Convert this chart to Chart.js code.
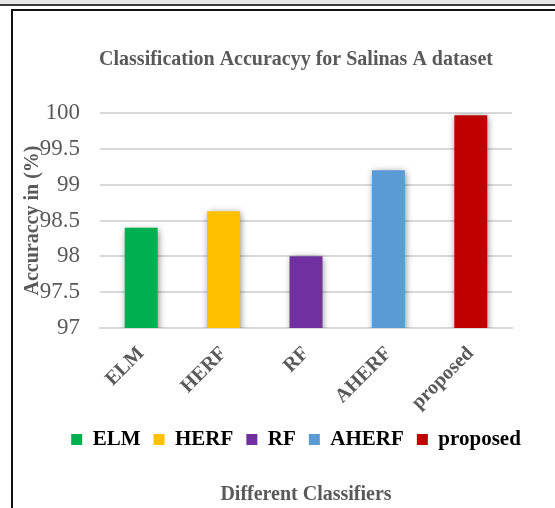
<!DOCTYPE html>
<html>
<head>
<meta charset="utf-8">
<script src="https://cdn.jsdelivr.net/npm/chart.js@4"></script>
<style>
  html, body { margin: 0; overflow: hidden; }
  body { background: #fff; width: 555px; height: 508px; position: relative; }
  #band { position: absolute; left: 0; top: 0; width: 555px; height: 4px; background: #e6e6e6; border-bottom: 2px solid #3a3a3a; }
  #frame { position: absolute; left: 11px; top: 9px; width: 542px; height: 497px; border-left: 2px solid #111; border-top: 2px solid #111; }
  #frame canvas { display: block; }
</style>
</head>
<body>
<div id="band"></div>
<div id="frame"><canvas id="myChart" width="566" height="497"></canvas></div>
<script>
const classifiers = ["ELM", "HERF", "RF", "AHERF", "proposed"];
const accuracy = [98.4, 98.63, 98.0, 99.2, 99.97];
const barColors = ["#00b050", "#ffc000", "#7030a0", "#5b9bd5", "#c00000"];
const yMin = 97;
const yMax = 100;
const yStep = 0.5;

const textColor = "#595959";
const serif = "'Liberation Serif', 'Times New Roman', serif";

// soft shadow behind the bars, like the office chart
const barShadow = {
  id: "barShadow",
  beforeDatasetsDraw: function (chart) {
    const ctx = chart.ctx;
    ctx.save();
    ctx.shadowColor = "rgba(0,0,0,0.5)";
    ctx.shadowBlur = 7;
    ctx.shadowOffsetX = 1;
    ctx.shadowOffsetY = 2;
  },
  afterDatasetsDraw: function (chart) {
    chart.ctx.restore();
  },
};

var data = {
  labels: classifiers,
  datasets: [
    {
      data: accuracy,
      backgroundColor: barColors,
      barPercentage: 0.4,
      categoryPercentage: 1,
    },
  ],
};

var accuracyChart = new Chart(document.getElementById("myChart"), {
  type: "bar",
  data: data,
  plugins: [barShadow],
  options: {
    responsive: false,
    animation: false,
    layout: { padding: 0 },
    plugins: {
      title: {
        display: true,
        text: "Classification Accuracyy for Salinas A dataset",
        color: textColor,
        font: { family: serif, size: 20, weight: "bold" },
        padding: { top: 37, bottom: 41 },
      },
      subtitle: {
        display: true,
        position: "bottom",
        text: "Different Classifiers",
        color: textColor,
        fullSize: false,
        font: { family: serif, size: 20, weight: "bold" },
        padding: { top: 23, bottom: 1 },
      },
      legend: {
        position: "bottom",
        labels: {
          color: textColor,
          font: { family: serif, size: 21, weight: "bold" },
          boxWidth: 11,
          boxHeight: 11,
          padding: 13,
          generateLabels: function (chart) {
            return chart.data.labels.map((label, i) => ({
              text: label,
              fillStyle: barColors[i],
              strokeStyle: barColors[i],
              lineWidth: 0,
              index: i,
            }));
          },
        },
        onClick: null,
      },
      tooltip: { enabled: false },
    },
    scales: {
      x: {
        afterFit: function (axis) {
          axis.height = 88;
        },
        grid: { display: false },
        border: { color: "#d9d9d9", width: 2 },
        ticks: {
          color: textColor,
          font: { family: serif, size: 20, weight: "bold" },
          minRotation: 45,
          maxRotation: 45,
          padding: 6,
        },
      },
      y: {
        min: yMin,
        max: yMax,
        afterFit: function (axis) {
          axis.width = 87;
        },
        grid: { color: "#d9d9d9", lineWidth: 2, drawTicks: false },
        border: { display: false },
        ticks: {
          stepSize: yStep,
          autoSkip: false,
          color: textColor,
          font: { family: serif, size: 23 },
          padding: 20,
          callback: (v) => String(v),
        },
        title: {
          display: true,
          text: "Accuraccy in (%)",
          color: textColor,
          font: { family: serif, size: 20, weight: "bold" },
          padding: { top: 8, bottom: 0 },
        },
      },
      // empty right margin so the title and legend center like the original
      yRight: {
        position: "right",
        afterFit: function (axis) {
          axis.width = 67;
        },
        grid: { display: false },
        border: { display: false },
        ticks: { display: false },
      },
    },
  },
});
</script>
</body>
</html>
